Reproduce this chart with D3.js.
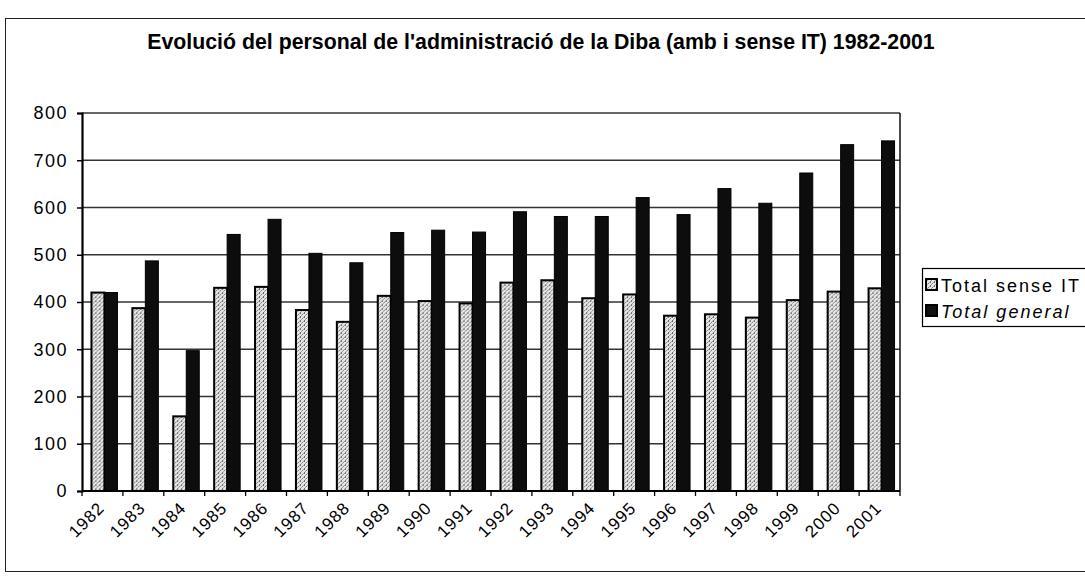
<!DOCTYPE html>
<html>
<head>
<meta charset="utf-8">
<script src="https://cdn.jsdelivr.net/npm/d3@7"></script>
<style>
body { margin: 0; background: #fff; }
svg { display: block; font-family: Arial, "Liberation Sans", sans-serif; }
</style>
</head>
<body>
<div id="chart"></div>
<script>
// values
const years = ["1982","1983","1984","1985","1986","1987","1988","1989","1990","1991",
               "1992","1993","1994","1995","1996","1997","1998","1999","2000","2001"];
const senseIT = [420,387,158,430,432,383,358,413,402,397,441,446,408,416,371,374,367,404,422,429];
const general = [420,487,297,543,575,503,483,547,552,548,591,581,581,621,585,640,609,673,733,741];
const seriesNames = ["Total sense IT", "Total general"];
const yTicks = [0,100,200,300,400,500,600,700,800];
const titleText = "Evolució del personal de l'administració de la Diba (amb i sense IT) 1982-2001";

const width = 1085, height = 579;
const plot = {left: 82, right: 900, top: 113, bottom: 491};

let svg = d3.select("#chart").append("svg")
    .attr("width", width)
    .attr("height", height);

let defs = svg.append("defs");
let pat = defs.append("pattern")
    .attr("id","speckle")
    .attr("patternUnits","userSpaceOnUse")
    .attr("width",4).attr("height",4);
pat.append("rect").attr("width",4).attr("height",4).attr("fill","#e6e6e6");
pat.append("rect").attr("x",0).attr("y",0).attr("width",1).attr("height",2).attr("fill","#666");
pat.append("rect").attr("x",2).attr("y",2).attr("width",1).attr("height",1).attr("fill","#777");
pat.append("rect").attr("x",3).attr("y",1).attr("width",1).attr("height",1).attr("fill","#aaa");
pat.append("rect").attr("x",1).attr("y",3).attr("width",1).attr("height",1).attr("fill","#999");

// outer frame
svg.append("rect")
    .attr("x",5.5).attr("y",18.5)
    .attr("width",1095).attr("height",553)
    .attr("fill","none").attr("stroke","#222").attr("stroke-width",1);

// title, fitted to the width it takes in the scan
let title = svg.append("text")
    .attr("x", 541).attr("y", 49)
    .attr("text-anchor","middle")
    .style("font-weight","bold")
    .style("font-size","15px")
    .text(titleText);
let tw = title.node().getComputedTextLength();
title.style("font-size", (15*788/tw).toFixed(2) + "px");

let x = d3.scaleBand().domain(years).range([plot.left, plot.right]).padding(0);
let bw = 13;
let xs = d3.scaleBand().domain(seriesNames).range([0, bw*2]);
let y = d3.scaleLinear().domain([0,800]).range([plot.bottom, plot.top]);

// gridlines
svg.append("g")
    .selectAll("line")
    .data(yTicks.filter(d => d > 0))
    .enter()
    .append("line")
    .attr("x1", plot.left).attr("x2", plot.right)
    .attr("y1", d => y(d)).attr("y2", d => y(d))
    .style("stroke","#333")
    .style("stroke-width",1.7);

// plot border right
svg.append("line")
    .attr("x1", plot.right).attr("x2", plot.right)
    .attr("y1", plot.top).attr("y2", plot.bottom)
    .style("stroke","#111").style("stroke-width",1.5);

// bars
let groups = svg.append("g")
    .selectAll("g")
    .data(years)
    .enter()
    .append("g")
    .attr("transform", (d) => "translate(" + (x(d) + x.bandwidth()/2 - bw + 2) + ",0)");

groups.append("rect")
    .attr("x", xs(seriesNames[0]))
    .attr("y", (d,i) => y(senseIT[i]))
    .attr("width", bw)
    .attr("height", (d,i) => y(0) - y(senseIT[i]))
    .style("fill","url(#speckle)")
    .style("stroke","#000")
    .style("stroke-width",2);

groups.append("rect")
    .attr("x", xs(seriesNames[1]))
    .attr("y", (d,i) => y(general[i]))
    .attr("width", bw)
    .attr("height", (d,i) => y(0) - y(general[i]))
    .style("fill","#0d0d0d")
    .style("stroke","#000")
    .style("stroke-width",1);

// y axis
let yAxis = svg.append("g")
    .attr("transform","translate(" + plot.left + ",0)")
    .call(d3.axisLeft(y).tickValues(yTicks).tickSize(5).tickPadding(9));
yAxis.select(".domain").style("stroke","#000").style("stroke-width",2.2);
yAxis.selectAll(".tick line").style("stroke","#000").style("stroke-width",1.5);
yAxis.selectAll("text")
    .style("font-size","18px")
    .style("letter-spacing","1.5px")
    .style("fill","#000");

// x axis: ticks sit between the categories
svg.append("line")
    .attr("x1", plot.left).attr("x2", plot.right)
    .attr("y1", plot.bottom).attr("y2", plot.bottom)
    .style("stroke","#000").style("stroke-width",1.8);
svg.append("g")
    .selectAll("line")
    .data(years.concat(["end"]))
    .enter()
    .append("line")
    .attr("x1", (d,i) => plot.left + i*x.bandwidth())
    .attr("x2", (d,i) => plot.left + i*x.bandwidth())
    .attr("y1", plot.bottom).attr("y2", plot.bottom + 5)
    .style("stroke","#000").style("stroke-width",1.3);

svg.append("g")
    .selectAll("text")
    .data(years)
    .enter()
    .append("text")
    .attr("transform", d => "translate(" + (x(d) + x.bandwidth()/2 + 3) + "," + (plot.bottom + 18) + ") rotate(-45)")
    .attr("text-anchor","end")
    .style("font-size","17px")
    .style("letter-spacing","1px")
    .text(d => d);

// legend
let legend = svg.append("g").attr("transform","translate(922,268)");
legend.append("rect")
    .attr("x",0.5).attr("y",0.5)
    .attr("width",175).attr("height",58)
    .attr("fill","#fff").attr("stroke","#000").attr("stroke-width",1.2);
let items = legend.selectAll("g.item")
    .data(seriesNames)
    .enter()
    .append("g")
    .attr("class","item")
    .attr("transform",(d,i) => "translate(4," + (17 + i*26) + ")");
items.append("rect")
    .attr("x",0).attr("y",-6)
    .attr("width",11).attr("height",11)
    .style("fill",(d,i) => i == 0 ? "url(#speckle)" : "#111")
    .style("stroke","#000").style("stroke-width",2);
items.append("text")
    .attr("x",15).attr("y",6.5)
    .style("font-size","18px")
    .style("letter-spacing","2px")
    .style("font-style",(d,i) => i == 1 ? "italic" : "normal")
    .text(d => d);
</script>
</body>
</html>
